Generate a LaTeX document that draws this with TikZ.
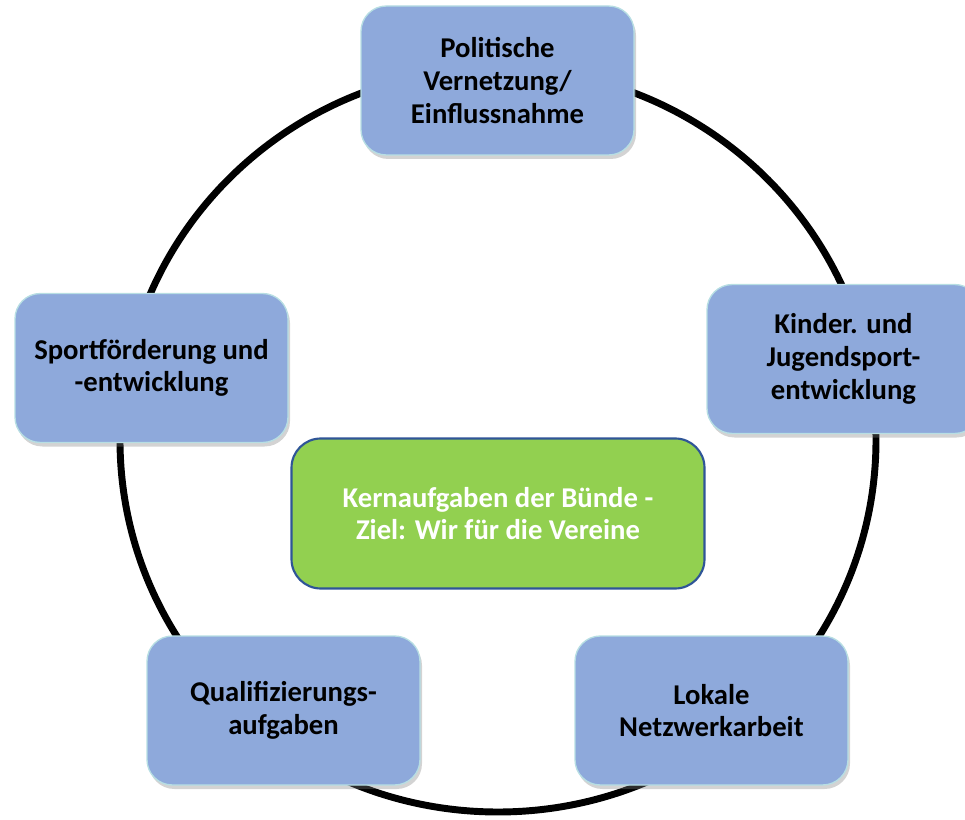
\documentclass[tikz,border=0pt]{standalone}
\usepackage{fontspec}
\setmainfont{Carlito}
\usetikzlibrary{shadows}
\definecolor{boxblue}{HTML}{8EA9DB}
\definecolor{boxedge}{HTML}{B7DEE3}
\definecolor{kerngreen}{HTML}{92D050}
\definecolor{kernedge}{HTML}{2F5597}
\begin{document}
\begin{tikzpicture}[x=0.75pt,y=-0.75pt,
  task/.style={draw=boxedge, line width=1pt, fill=boxblue, rounded corners=19pt,
    minimum width=273*0.75pt, minimum height=149*0.75pt, align=center,
    font=\fontsize{21.5}{24.5}\selectfont\bfseries, text=black,
    drop shadow={opacity=0.35, shadow xshift=1.5pt, shadow yshift=-3pt}},
  core/.style={draw=kernedge, line width=1.6pt, fill=kerngreen, rounded corners=22pt,
    minimum width=413*0.75pt, minimum height=150*0.75pt, align=center,
    font=\fontsize{21.5}{24.5}\selectfont\bfseries, text=white}]
\useasboundingbox (0,0) rectangle (965,820);
\clip (0,0) rectangle (965,820);
\coordinate (c) at (498,440);
\draw[line width=5.2pt] (c) ellipse [x radius=283.5pt, y radius=279pt];
\node[task] (pol) at (497.5,80.5) {Politische\\Vernetzung/\\Einflussnahme};
\node[task] (sport) at (151.5,368) {Sportförderung und\\-entwicklung};
\node[task] (kind) at (843.5,359) {Kinder. und\\Jugendsport-\\entwicklung};
\node[task] (qual) at (283.5,710.5) {Qualifizierungs-\\aufgaben};
\node[task] (lok) at (711.5,710.5) {Lokale\\Netzwerkarbeit};
\node[core] (kern) at (498,513.5) {Kernaufgaben der Bünde -\\Ziel: Wir für die Vereine};
\end{tikzpicture}
\end{document}
